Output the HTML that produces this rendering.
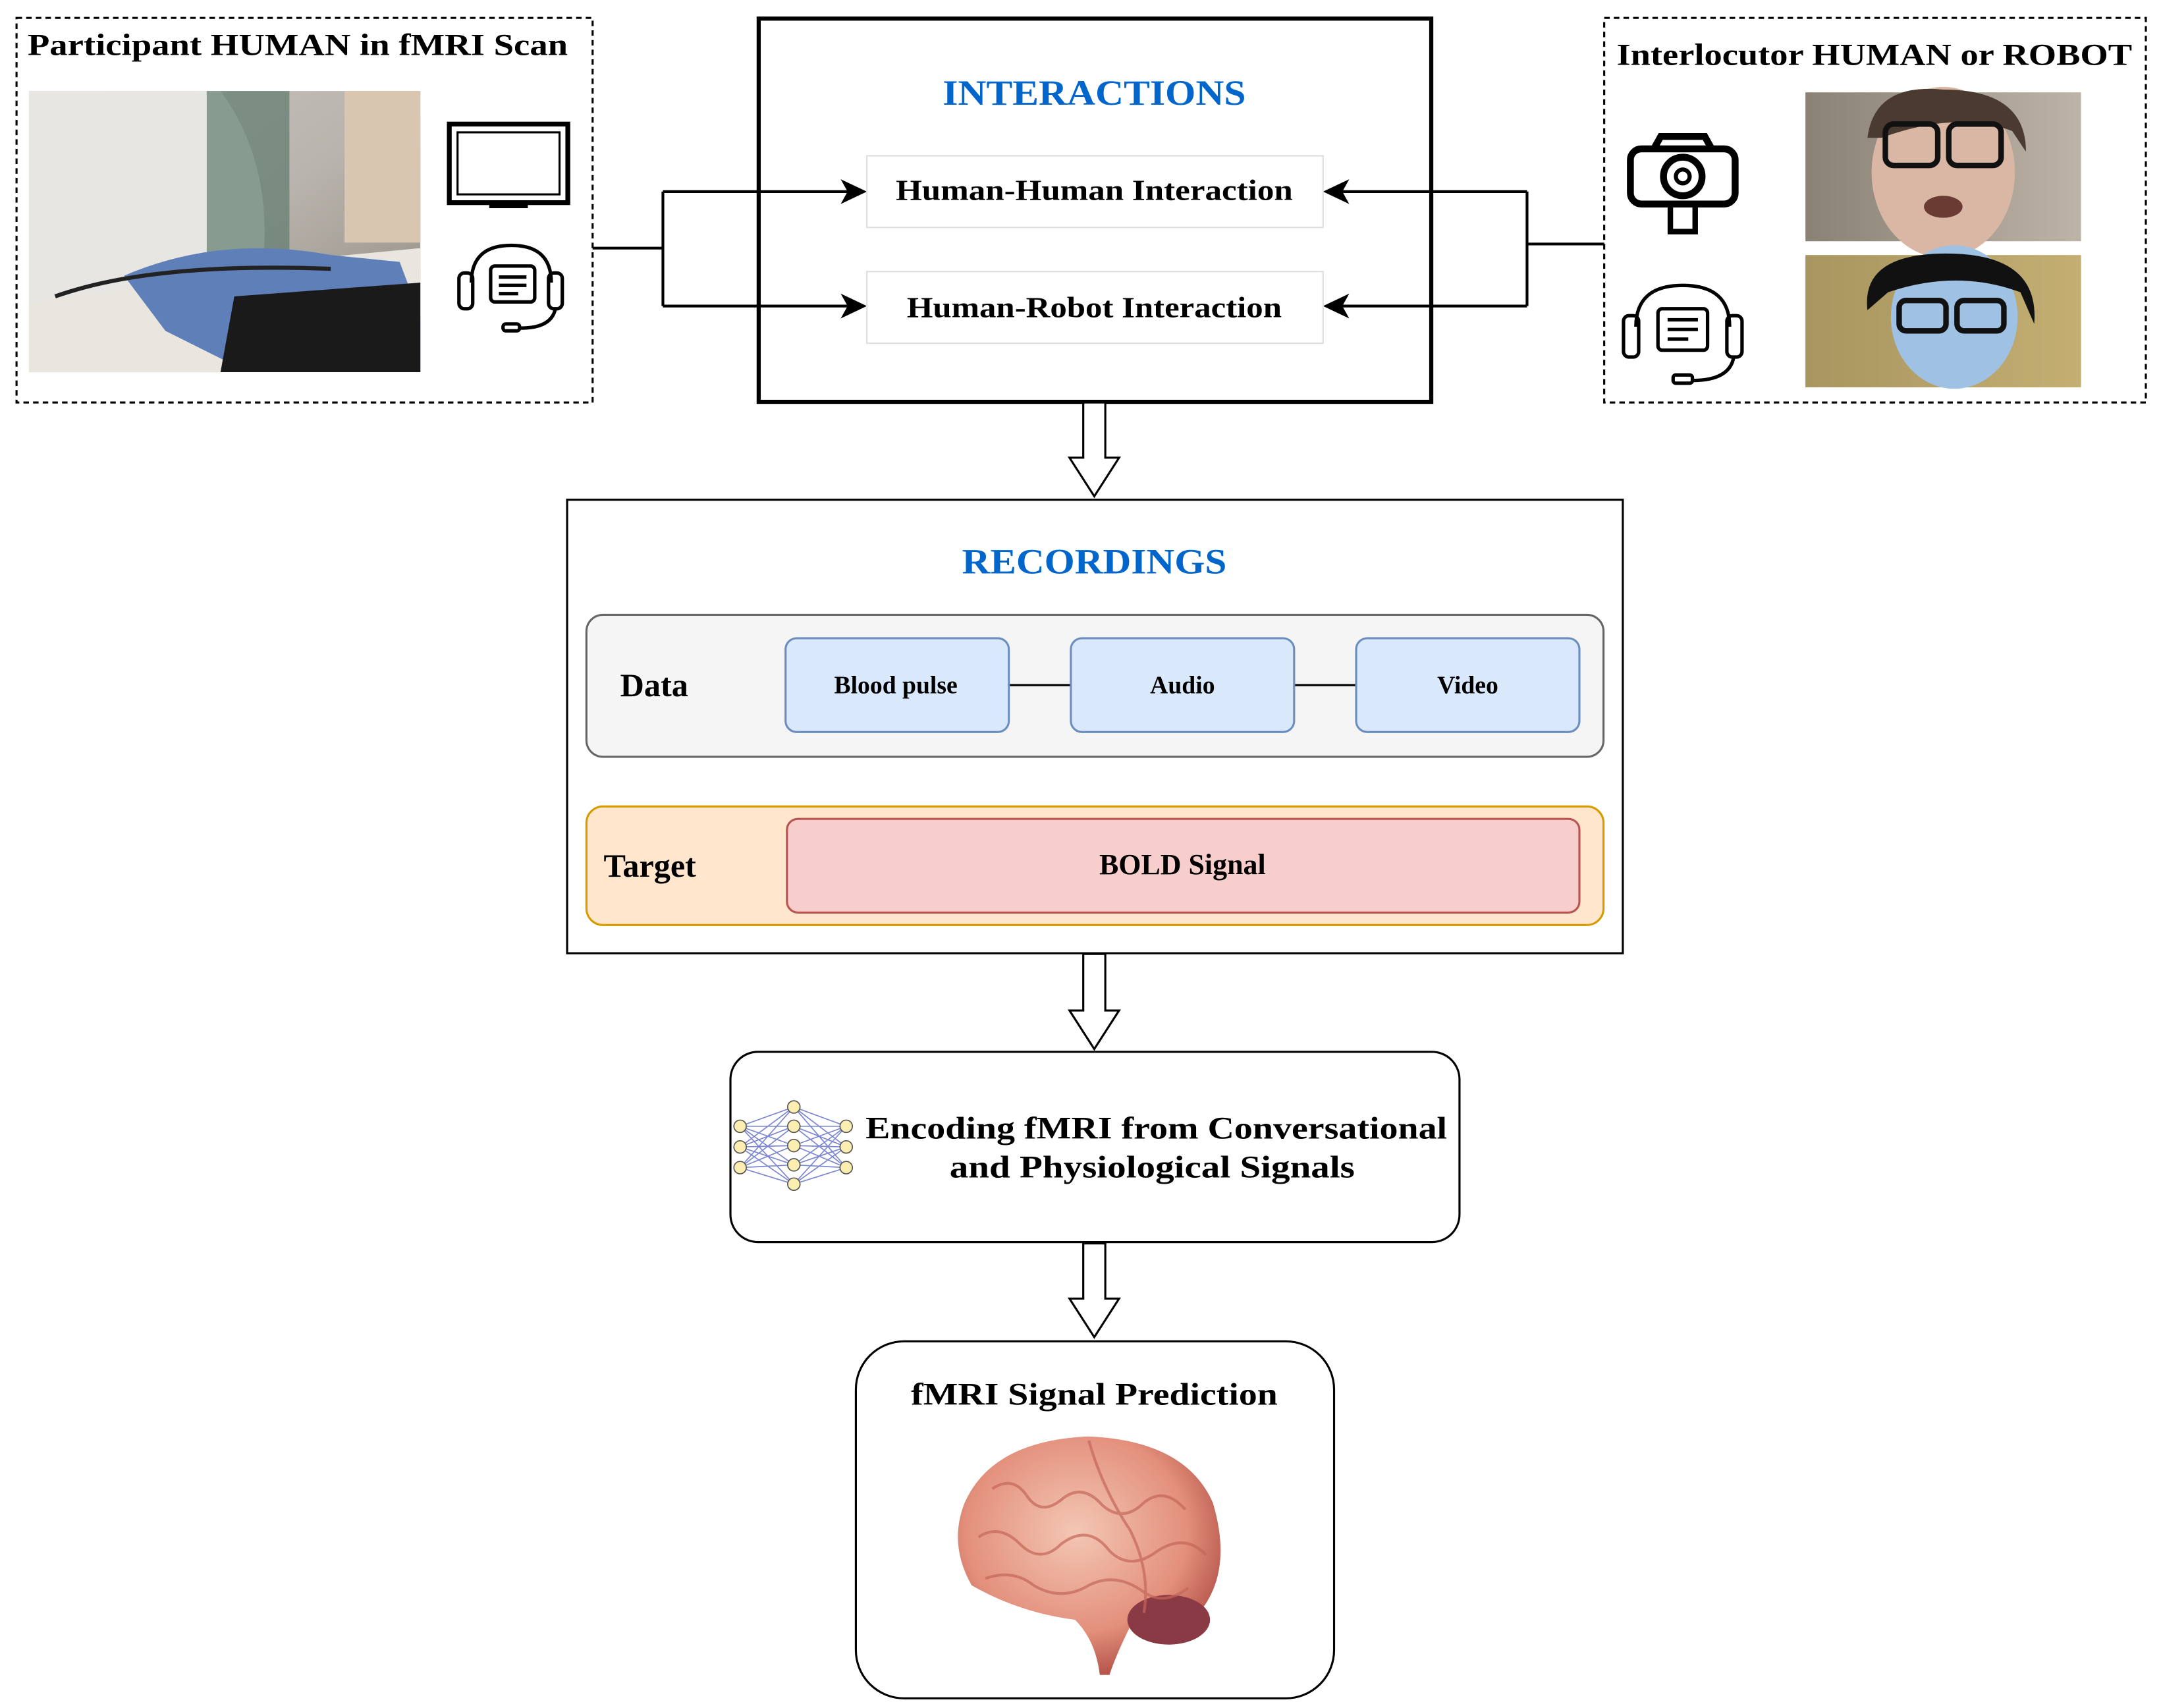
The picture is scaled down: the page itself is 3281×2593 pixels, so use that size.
<!DOCTYPE html>
<html><head><meta charset="utf-8"><style>
html,body{margin:0;padding:0;background:#fff;}
svg{display:block;}
text{font-family:"Liberation Serif",serif;font-weight:bold;}
</style></head><body>
<svg width="3281" height="2593" viewBox="0 0 1568 1239" preserveAspectRatio="none" xmlns="http://www.w3.org/2000/svg">
<defs>
<linearGradient id="mri" x1="0" y1="0" x2="1" y2="1"><stop offset="0" stop-color="#c9c6c0"/><stop offset="0.5" stop-color="#b9b4ad"/><stop offset="1" stop-color="#8d877f"/></linearGradient>
<radialGradient id="brain" cx="0.45" cy="0.4" r="0.6"><stop offset="0" stop-color="#f3c7b4"/><stop offset="0.7" stop-color="#e3907c"/><stop offset="1" stop-color="#b8574c"/></radialGradient>
<linearGradient id="f1" x1="0" y1="0" x2="1" y2="0"><stop offset="0" stop-color="#8a8275"/><stop offset="1" stop-color="#bdb3a6"/></linearGradient>
<linearGradient id="f2" x1="0" y1="0" x2="1" y2="0"><stop offset="0" stop-color="#a89660"/><stop offset="1" stop-color="#c4ae72"/></linearGradient>
</defs>
<rect width="1568" height="1239" fill="#fff"/>

<!-- Left dashed box -->
<rect x="12" y="13" width="418" height="279" fill="none" stroke="#000" stroke-width="1.5" stroke-dasharray="4,3"/>
<text x="20" y="40" font-size="22" textLength="392" lengthAdjust="spacingAndGlyphs">Participant HUMAN in fMRI Scan</text>
<rect x="21" y="66" width="284" height="204" fill="url(#mri)"/>
<path d="M21 66 L160 66 Q200 120 190 200 L21 230 Z" fill="#e8e6e2"/>
<rect x="150" y="66" width="60" height="120" fill="#5f7a6e" opacity="0.7"/>
<rect x="250" y="66" width="55" height="110" fill="#d8c6b0"/>
<path d="M21 220 L150 200 L200 190 L305 180 L305 270 L21 270 Z" fill="#e9e5df"/>
<path d="M90 200 Q160 170 240 185 L290 190 L305 230 L305 270 L180 270 L120 240 Z" fill="#5f7fb8"/>
<path d="M170 215 L305 205 L305 270 L160 270 Z" fill="#1a1a1a"/>
<path d="M40 215 Q110 190 240 195" stroke="#222" stroke-width="3" fill="none"/>
<!-- monitor -->
<rect x="326" y="90" width="86" height="57" fill="none" stroke="#000" stroke-width="3.5"/>
<rect x="332" y="96" width="74" height="45" fill="none" stroke="#000" stroke-width="1.5"/>
<rect x="355" y="147" width="28" height="4" fill="#000"/>
<!-- headset left -->
<g fill="none" stroke="#000" stroke-width="2.5">
<path d="M342 205 Q342 178 371 178 Q400 178 400 205"/>
<rect x="333" y="198" width="10" height="26" rx="4"/><rect x="398" y="198" width="10" height="26" rx="4"/>
<rect x="356" y="193" width="32" height="26" rx="3"/>
<path d="M362 201 H382 M362 207 H382 M362 213 H376"/>
<path d="M403 224 Q400 238 378 238"/><rect x="365" y="235" width="12" height="5" rx="2"/>
</g>

<!-- connectors -->
<g stroke="#000" stroke-width="2" fill="none">
<path d="M430 180 H481 M481 139 V222 M481 139 H620 M481 222 H620"/>
<path d="M1164 177 H1108 M1108 139 V222 M1108 139 H968 M1108 222 H968"/>
</g>
<path d="M629 139 L610 130 L615 139 L610 148 Z" fill="#000"/>
<path d="M629 222 L610 213 L615 222 L610 231 Z" fill="#000"/>
<path d="M960 139 L979 130 L974 139 L979 148 Z" fill="#000"/>
<path d="M960 222 L979 213 L974 222 L979 231 Z" fill="#000"/>

<!-- Interactions -->
<rect x="550.5" y="13.5" width="488" height="278" fill="none" stroke="#000" stroke-width="3"/>
<text x="794" y="76" font-size="26" fill="#0066cc" text-anchor="middle" textLength="220" lengthAdjust="spacingAndGlyphs">INTERACTIONS</text>
<rect x="629" y="113" width="331" height="52" fill="#fff" stroke="#ddd" stroke-width="1"/>
<text x="794" y="145" font-size="21" text-anchor="middle" textLength="288" lengthAdjust="spacingAndGlyphs">Human-Human Interaction</text>
<rect x="629" y="197" width="331" height="52" fill="#fff" stroke="#ddd" stroke-width="1"/>
<text x="794" y="230" font-size="21" text-anchor="middle" textLength="272" lengthAdjust="spacingAndGlyphs">Human-Robot Interaction</text>

<!-- Right dashed box -->
<rect x="1164" y="13" width="393" height="279" fill="none" stroke="#000" stroke-width="1.5" stroke-dasharray="4,3"/>
<text x="1173" y="47" font-size="22" textLength="374" lengthAdjust="spacingAndGlyphs">Interlocutor HUMAN or ROBOT</text>
<!-- camera -->
<g fill="none" stroke="#000" stroke-width="5">
<rect x="1183" y="108" width="76" height="40" rx="8"/>
<path d="M1200 108 L1205 99 H1237 L1242 108"/>
<circle cx="1221" cy="128" r="14"/><circle cx="1221" cy="128" r="5" stroke-width="3"/>
<rect x="1212" y="148" width="18" height="20" stroke-width="4"/>
</g>
<!-- headset right -->
<g fill="none" stroke="#000" stroke-width="2.5">
<path d="M1187 237 Q1187 207 1221 207 Q1255 207 1255 237"/>
<rect x="1178" y="229" width="11" height="30" rx="4"/><rect x="1253" y="229" width="11" height="30" rx="4"/>
<rect x="1203" y="224" width="36" height="30" rx="3"/>
<path d="M1210 232 H1232 M1210 239 H1232 M1210 246 H1225"/>
<path d="M1258 259 Q1255 276 1228 276"/><rect x="1214" y="272" width="14" height="6" rx="2"/>
</g>
<!-- photos -->
<rect x="1310" y="67" width="200" height="108" fill="url(#f1)"/>
<ellipse cx="1410" cy="125" rx="52" ry="62" fill="#d9b7a4"/>
<path d="M1355 100 Q1360 60 1410 65 Q1470 65 1470 110 L1460 95 Q1420 80 1365 100 Z" fill="#4a3a30"/>
<rect x="1368" y="90" width="38" height="30" rx="6" fill="none" stroke="#111" stroke-width="4"/>
<rect x="1414" y="90" width="38" height="30" rx="6" fill="none" stroke="#111" stroke-width="4"/>
<ellipse cx="1410" cy="150" rx="14" ry="8" fill="#6a3b33"/>
<rect x="1310" y="185" width="200" height="96" fill="url(#f2)"/>
<ellipse cx="1418" cy="230" rx="46" ry="52" fill="#9fc2e4"/>
<path d="M1355 225 Q1350 182 1418 184 Q1480 186 1476 235 L1466 212 Q1420 195 1370 212 Z" fill="#111"/>
<rect x="1378" y="218" width="34" height="22" rx="5" fill="none" stroke="#111" stroke-width="4"/>
<rect x="1420" y="218" width="34" height="22" rx="5" fill="none" stroke="#111" stroke-width="4"/>

<!-- block arrows -->
<g fill="#fff" stroke="#000" stroke-width="1.5">
<path d="M786 292 V332 H776 L794 360 L812 332 H802 V292 Z"/>
<path d="M786 692 V733 H776 L794 761 L812 733 H802 V692 Z"/>
<path d="M786 902 V942 H776 L794 970 L812 942 H802 V902 Z"/>
</g>

<!-- Recordings -->
<rect x="411.5" y="362.5" width="766" height="329" fill="#fff" stroke="#000" stroke-width="1.5"/>
<text x="794" y="416" font-size="26" fill="#0066cc" text-anchor="middle" textLength="192" lengthAdjust="spacingAndGlyphs">RECORDINGS</text>
<rect x="425.5" y="446" width="738" height="103" rx="12" fill="#f5f5f5" stroke="#666" stroke-width="1.5"/>
<text x="450" y="505" font-size="24">Data</text>
<path d="M732 497 H777 M939 497 H984" stroke="#000" stroke-width="1.5"/>
<rect x="570" y="463" width="162" height="68" rx="8" fill="#dae8fc" stroke="#6c8ebf" stroke-width="1.5"/>
<rect x="777" y="463" width="162" height="68" rx="8" fill="#dae8fc" stroke="#6c8ebf" stroke-width="1.5"/>
<rect x="984" y="463" width="162" height="68" rx="8" fill="#dae8fc" stroke="#6c8ebf" stroke-width="1.5"/>
<text x="650" y="503" font-size="18" text-anchor="middle">Blood pulse</text>
<text x="858" y="503" font-size="18" text-anchor="middle">Audio</text>
<text x="1065" y="503" font-size="18" text-anchor="middle">Video</text>
<rect x="425.5" y="585" width="738" height="86" rx="12" fill="#ffe6cc" stroke="#d79b00" stroke-width="1.5"/>
<text x="438" y="636" font-size="24">Target</text>
<rect x="571" y="594" width="575" height="68" rx="8" fill="#f8cecc" stroke="#b85450" stroke-width="1.5"/>
<text x="858" y="634" font-size="21" text-anchor="middle">BOLD Signal</text>

<!-- Encoding -->
<rect x="530" y="763" width="529" height="138" rx="20" fill="#fff" stroke="#000" stroke-width="1.5"/>
<g stroke="#7b86d0" stroke-width="0.8">
<path d="M537 817 L576 803 M537 817 L576 817 M537 817 L576 831 M537 817 L576 845 M537 817 L576 859 M537 832 L576 803 M537 832 L576 817 M537 832 L576 831 M537 832 L576 845 M537 832 L576 859 M537 847 L576 803 M537 847 L576 817 M537 847 L576 831 M537 847 L576 845 M537 847 L576 859"/>
<path d="M614 817 L576 803 M614 817 L576 817 M614 817 L576 831 M614 817 L576 845 M614 817 L576 859 M614 832 L576 803 M614 832 L576 817 M614 832 L576 831 M614 832 L576 845 M614 832 L576 859 M614 847 L576 803 M614 847 L576 817 M614 847 L576 831 M614 847 L576 845 M614 847 L576 859"/>
</g>
<g fill="#fbeeb0" stroke="#555" stroke-width="0.8">
<circle cx="537" cy="817" r="4.5"/><circle cx="537" cy="832" r="4.5"/><circle cx="537" cy="847" r="4.5"/>
<circle cx="576" cy="803" r="4.5"/><circle cx="576" cy="817" r="4.5"/><circle cx="576" cy="831" r="4.5"/><circle cx="576" cy="845" r="4.5"/><circle cx="576" cy="859" r="4.5"/>
<circle cx="614" cy="817" r="4.5"/><circle cx="614" cy="832" r="4.5"/><circle cx="614" cy="847" r="4.5"/>
</g>
<text x="839" y="826" font-size="23" text-anchor="middle" textLength="422" lengthAdjust="spacingAndGlyphs">Encoding fMRI from Conversational</text>
<text x="836" y="854" font-size="23" text-anchor="middle" textLength="294" lengthAdjust="spacingAndGlyphs">and Physiological Signals</text>

<!-- Prediction -->
<rect x="621" y="973" width="347" height="259" rx="35" fill="#fff" stroke="#000" stroke-width="1.5"/>
<text x="794" y="1019" font-size="23" text-anchor="middle" textLength="266" lengthAdjust="spacingAndGlyphs">fMRI Signal Prediction</text>
<path d="M700 1090 Q720 1045 790 1042 Q860 1045 880 1090 Q895 1140 870 1170 Q850 1185 820 1180 Q810 1200 805 1215 L798 1215 Q795 1190 780 1175 Q740 1170 705 1150 Q688 1120 700 1090 Z" fill="url(#brain)"/>
<ellipse cx="848" cy="1175" rx="30" ry="18" fill="#8a3a44"/>
<g fill="none" stroke="#c4675a" stroke-width="2" opacity="0.7">
<path d="M720 1080 Q735 1070 745 1085 Q755 1100 770 1088 Q785 1075 800 1092 Q815 1105 830 1090 Q845 1078 860 1095"/>
<path d="M710 1115 Q725 1105 740 1120 Q755 1135 770 1120 Q790 1105 805 1125 Q820 1140 840 1125 Q860 1112 875 1128"/>
<path d="M715 1145 Q735 1138 750 1150 Q770 1162 790 1150 Q810 1140 830 1155 Q845 1165 862 1152"/>
<path d="M790 1045 Q800 1080 820 1110 Q835 1140 830 1170"/>
</g>
</svg>
</body></html>
